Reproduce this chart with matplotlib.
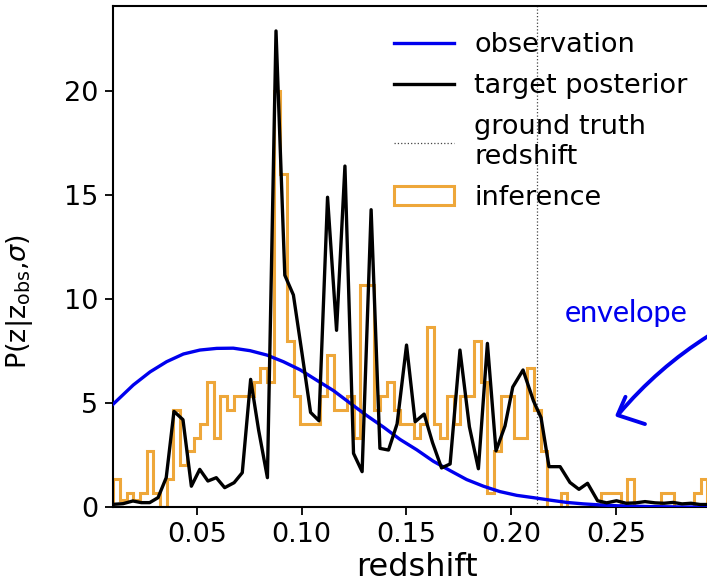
import numpy as np
import matplotlib
matplotlib.use("Agg")
import matplotlib.pyplot as plt
from matplotlib.path import Path
from matplotlib.patches import PathPatch

# ---------------- data ----------------
# observation (smooth envelope), sampled along the curve
obs_z = [0.0101, 0.0197, 0.0277, 0.0356, 0.0436, 0.0515, 0.0595, 0.0674, 0.0754,
         0.0834, 0.0913, 0.0993, 0.1072, 0.1152, 0.1231, 0.1311, 0.1390, 0.1470,
         0.1550, 0.1629, 0.1709, 0.1788, 0.1868, 0.1947, 0.2027, 0.2106, 0.2186,
         0.2266, 0.2345, 0.2425, 0.2504, 0.2584, 0.2663, 0.2743, 0.2822, 0.2902, 0.2997]
obs_p = [4.95, 5.87, 6.50, 6.99, 7.36, 7.55, 7.63, 7.64, 7.52,
         7.31, 6.99, 6.60, 6.10, 5.60, 5.00, 4.40, 3.85, 3.25,
         2.75, 2.20, 1.75, 1.32, 1.00, 0.74, 0.56, 0.45, 0.33,
         0.22, 0.15, 0.10, 0.06, 0.04, 0.02, 0.01, 0.0, 0.0, 0.0]

# target posterior
post_z = [0.0090, 0.0148, 0.0195, 0.0235, 0.0275, 0.0315, 0.0354, 0.0391, 0.0434,
          0.0474, 0.0514, 0.0553, 0.0593, 0.0633, 0.0678, 0.0717, 0.0757, 0.0795,
          0.0837, 0.0878, 0.0920, 0.0961, 0.1002, 0.1043, 0.1083, 0.1124, 0.1167,
          0.1207, 0.1248, 0.1289, 0.1332, 0.1374, 0.1415, 0.1456, 0.1501, 0.1542,
          0.1585, 0.1625, 0.1668, 0.1709, 0.1756, 0.1801, 0.1844, 0.1887, 0.1928,
          0.1971, 0.2008, 0.2057, 0.2107, 0.2143, 0.2181, 0.2234, 0.2281, 0.2324,
          0.2365, 0.2413, 0.2456, 0.2503, 0.2549, 0.2596, 0.2639, 0.2687, 0.2730,
          0.2773, 0.2816, 0.2859, 0.2902, 0.2945, 0.2988]
post_p = [0.12, 0.16, 0.29, 0.21, 0.21, 0.45, 1.41, 4.60, 4.20,
          1.00, 1.81, 1.25, 1.41, 0.93, 1.17, 1.65, 6.14, 3.70,
          1.41, 22.90, 11.15, 10.20, 7.40, 4.55, 4.15, 14.90, 8.50,
          16.40, 2.58, 1.70, 14.30, 2.82, 2.74, 4.00, 7.79, 4.10,
          4.47, 3.10, 1.88, 2.07, 7.55, 3.86, 1.84, 7.87, 2.70,
          3.90, 5.77, 6.59, 5.10, 4.30, 1.94, 1.94, 1.18, 0.85,
          1.14, 0.30, 0.20, 0.30, 0.18, 0.20, 0.26, 0.20, 0.18,
          0.22, 0.15, 0.18, 0.12, 0.12, 0.10]

# inference histogram (bin edges and heights)
hist_lo, hist_hi, hist_nbins = 0.0102, 0.3001, 91
hist_h = [1.33, 0.33, 0.67, 0.33, 0.67, 2.67, 0.67, 0.00, 1.33, 4.67,
          2.00, 2.67, 3.33, 4.00, 6.00, 3.33, 5.33, 4.67, 5.33, 5.33,
          5.33, 6.00, 6.67, 6.00, 20.00, 16.00, 8.00, 5.33, 4.00, 4.00,
          4.00, 5.33, 7.33, 4.67, 4.67, 5.33, 3.33, 10.67, 10.67, 4.67,
          5.33, 6.00, 4.67, 4.00, 4.00, 3.33, 4.00, 8.67, 4.00, 3.33,
          5.33, 4.00, 5.33, 5.33, 8.00, 6.00, 0.67, 2.67, 5.33, 5.33,
          3.33, 3.33, 6.67, 4.67, 2.67, 0.00, 0.00, 0.67, 0.00, 0.00,
          0.00, 0.00, 0.00, 0.67, 0.67, 0.67, 0.00, 1.33, 0.00, 0.00,
          0.00, 0.00, 0.67, 0.67, 0.00, 0.00, 0.00, 0.67, 1.33, 0.00,
          0.00]

z_true = 0.2124

xticks = [0.05, 0.10, 0.15, 0.20, 0.25]
yticks = [0, 5, 10, 15, 20]

# ---------------- figure ----------------
plt.rcParams['font.family'] = ['DejaVu Sans']
W, H = 707, 587
fig = plt.figure(figsize=(W / 100, H / 100), dpi=100)
ax = fig.add_axes([113 / W, 80 / H, 607.6 / W, 501 / H])

orange = '#eea73a'
blue = '#0000ee'

edges = np.linspace(hist_lo, hist_hi, hist_nbins + 1)
centers = 0.5 * (edges[:-1] + edges[1:])
ax.plot(obs_z, obs_p, color=blue, lw=2.4, label='observation', zorder=3)
ax.plot(post_z, post_p, color='black', lw=2.4, label='target posterior', zorder=4)
ax.axvline(z_true, color='#444444', ls=':', lw=0.9, label='ground truth\nredshift', zorder=2)
ax.hist(centers, bins=edges, weights=hist_h, histtype='step', color=orange,
        lw=2.2, label='inference', zorder=1)

ax.set_xlim(0.01, 0.30)
ax.set_ylim(0, 24.1)
ax.set_xticks(xticks)
ax.set_xticklabels([f'{t:.2f}' for t in xticks])
ax.set_yticks(yticks)
ax.tick_params(labelsize=19.5, length=5.5, width=1.3, pad=5)
for s in ax.spines.values():
    s.set_linewidth(1.5)

ax.set_xlabel('redshift', fontsize=23, labelpad=3)
ax.set_ylabel(r'P(z|z$_{\mathrm{obs}}$,$\sigma$)', fontsize=19.5)
ax.yaxis.set_label_coords(-0.128, 0.41)

leg = ax.legend(loc='upper left', bbox_to_anchor=(370 / W, 1 - 8 / H),
                bbox_transform=fig.transFigure, frameon=False, fontsize=19.5,
                handlelength=2.2, handletextpad=0.75, labelspacing=0.55,
                borderpad=0.4)

# hand-drawn style annotation
ax.text(0.2549, 9.33, 'envelope', color=blue, fontsize=22, family='Lato',
        ha='center', va='center')
verts = [(0.2945, 8.25), (0.2700, 6.70), (0.2512, 4.45)]
ax.add_patch(PathPatch(Path(verts, [Path.MOVETO, Path.CURVE3, Path.CURVE3]),
                       fill=False, edgecolor=blue, lw=2.8, capstyle='round',
                       clip_on=False))
ax.plot([0.2546, 0.2508, 0.2639], [5.30, 4.42, 3.99], color=blue, lw=2.8,
        solid_capstyle='round', solid_joinstyle='round', clip_on=False)

fig.savefig('out.png', dpi=100)
